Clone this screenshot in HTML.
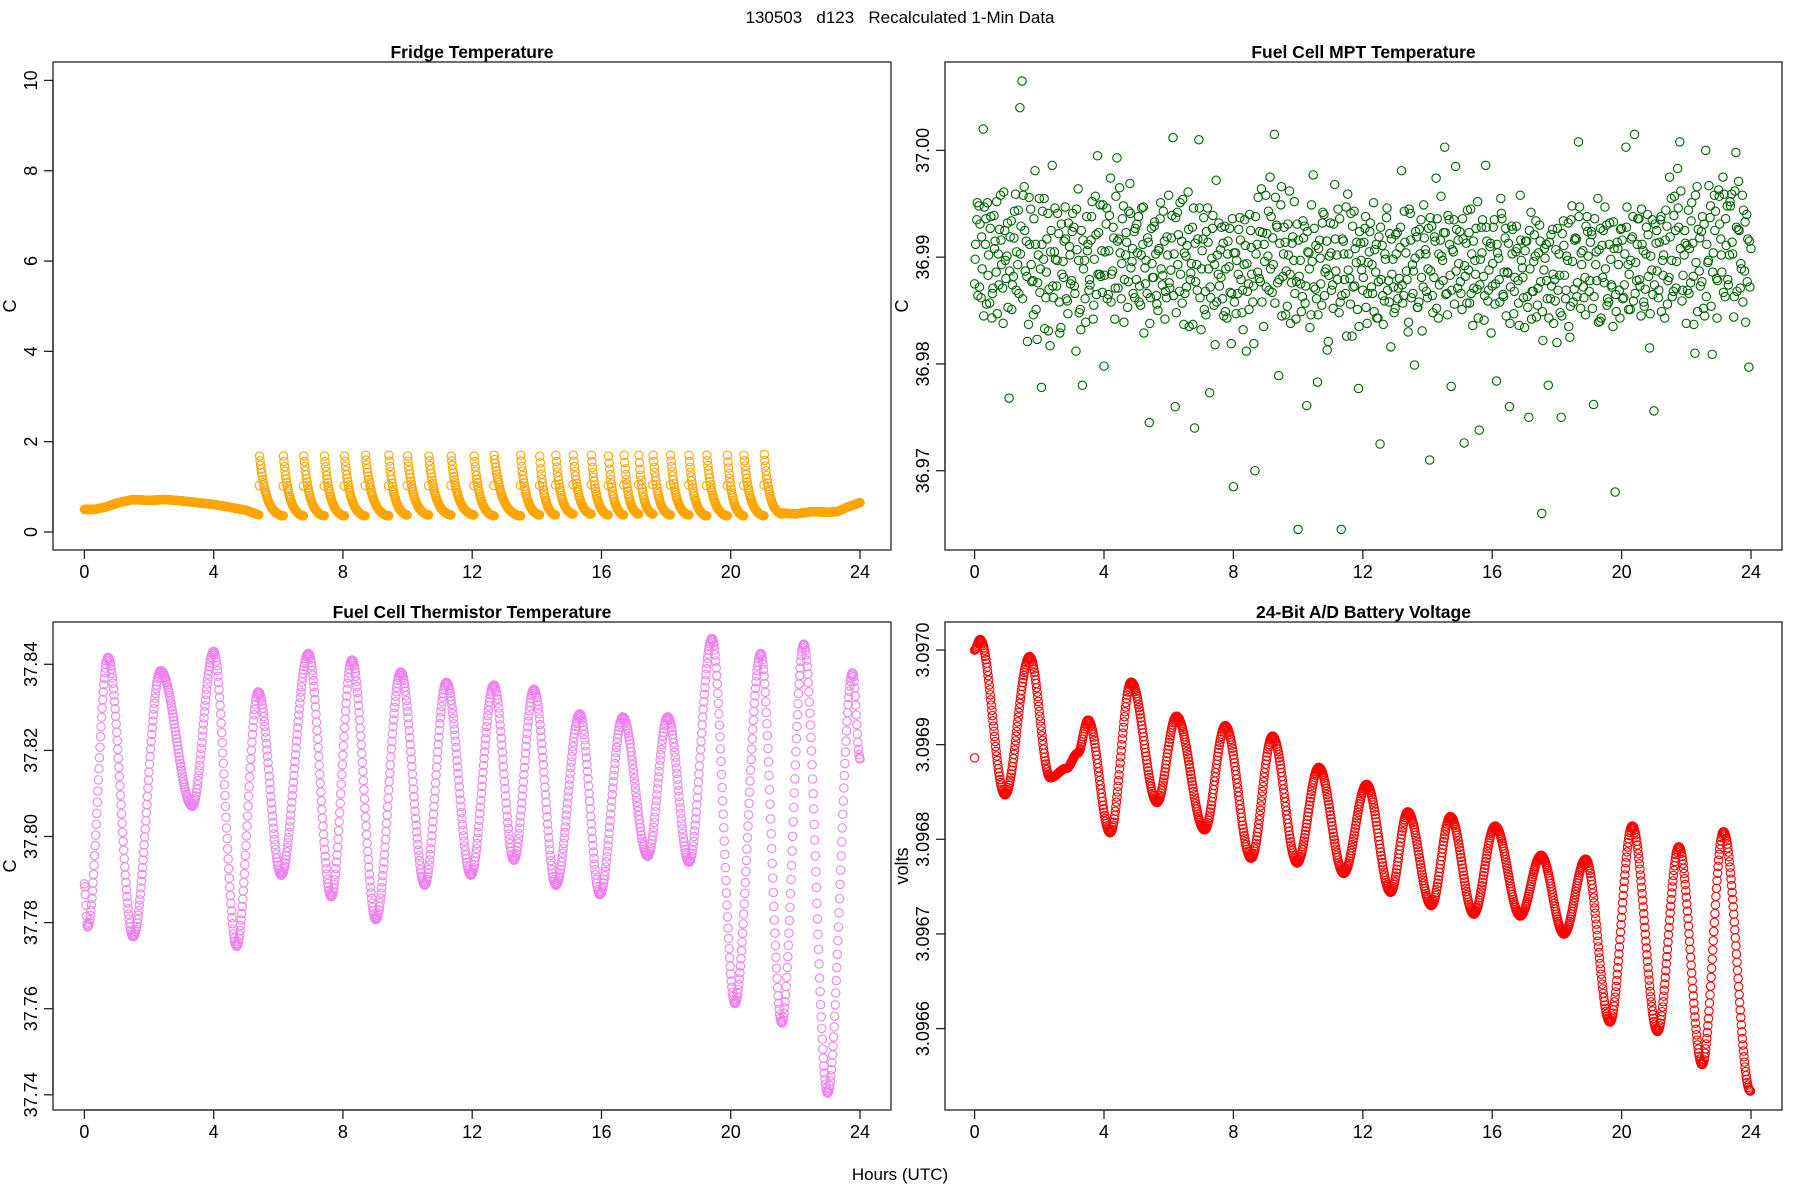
<!DOCTYPE html>
<html><head><meta charset="utf-8"><style>
html,body{margin:0;padding:0;background:#fff;}
svg{display:block;font-family:"Liberation Sans",Arial,sans-serif;}
</style></head><body>
<svg id="chart" width="1800" height="1200" viewBox="0 0 1800 1200" xmlns="http://www.w3.org/2000/svg">
<rect x="0" y="0" width="1800" height="1200" fill="#fff"/>
<text x="900" y="23" text-anchor="middle" font-size="17" fill="#000" xml:space="preserve">130503   d123   Recalculated 1-Min Data</text>
<text x="900" y="1180" text-anchor="middle" font-size="17" fill="#000">Hours (UTC)</text>
</svg>
<script>
// ---------- data ----------
const hourTicks = [0,4,8,12,16,20,24];

// Fridge temperature
const fridgePreHours = [0,0.3,0.7,1.0,1.5,2.0,2.5,3.0,3.5,4.0,4.5,5.0,5.4];
const fridgePreValues = [0.5,0.5,0.56,0.64,0.72,0.70,0.72,0.69,0.65,0.61,0.55,0.48,0.38];
const fridgeCycleStarts = [5.42,6.16,6.79,7.43,8.05,8.70,9.42,10.0,10.66,11.35,12.06,12.68,13.50,14.09,14.59,15.13,15.69,16.22,16.70,17.16,17.60,18.14,18.71,19.26,19.90,20.41,21.04];
const fridgeCyclePeaks = [1.68,1.68,1.68,1.68,1.68,1.7,1.7,1.68,1.68,1.68,1.68,1.7,1.7,1.68,1.7,1.7,1.7,1.68,1.7,1.7,1.7,1.7,1.7,1.7,1.7,1.7,1.72];
const fridgeCycleTroughs = [0.36,0.36,0.36,0.36,0.36,0.36,0.38,0.38,0.38,0.38,0.36,0.36,0.38,0.38,0.4,0.4,0.38,0.38,0.4,0.4,0.38,0.38,0.36,0.36,0.36,0.36,0.4];
const fridgeCycleEnd = 21.6;
const fridgePostHours = [21.6,22.0,22.5,23.0,23.3,23.6,24.0];
const fridgePostValues = [0.42,0.40,0.45,0.44,0.45,0.55,0.65];
const fridgeYTicks = [0,2,4,6,8,10];

// Fuel cell MPT temperature (three interleaved series, one value every 4 minutes each)
const mptStepMinutes = 4;
const mptValues = [
36.9875,36.9935,36.9948,36.9862,37.0020,36.9912,36.9951,36.9857,36.9843,36.9939,36.9886,36.9903,36.9958,36.9871,36.9925,
36.9901,36.9768,36.9934,36.9882,36.9959,36.9893,37.0040,37.0065,36.9966,36.9915,36.9837,36.9945,36.9878,36.9981,36.9823,
36.9955,36.9778,36.9898,36.9862,36.9941,36.9817,36.9986,36.9905,36.9873,36.9922,36.9834,36.9896,36.9947,36.9859,36.9910,
36.9878,36.9928,36.9812,36.9964,36.9851,36.9780,36.9897,36.9938,36.9869,36.9916,36.9842,36.9957,36.9995,36.9884,36.9906,
36.9798,36.9931,36.9865,36.9974,36.9887,36.9842,36.9993,36.9917,36.9861,36.9948,36.9902,36.9853,36.9969,36.9896,36.9924,
36.9879,36.9938,36.9855,36.9912,36.9890,36.9866,36.9745,36.9927,36.9881,36.9903,36.9850,36.9936,36.9874,36.9915,36.9862,
36.9958,36.9888,37.0012,36.9760,36.9942,36.9868,36.9915,36.9837,36.9901,36.9961,36.9879,36.9928,36.9740,36.9893,37.0010,
36.9832,36.9917,36.9868,36.9946,36.9773,36.9899,36.9855,36.9972,36.9884,36.9907,36.9861,36.9929,36.9843,36.9891,36.9819,
36.9685,36.9904,36.9866,36.9937,36.9848,36.9893,36.9812,36.9875,36.9925,36.9858,36.9700,36.9912,36.9880,36.9964,36.9835,
36.9958,36.9901,36.9975,36.9867,37.0015,36.9930,36.9789,36.9949,36.9882,36.9914,36.9854,36.9962,36.9876,36.9897,36.9842,
36.9645,36.9897,36.9863,36.9929,36.9761,36.9904,36.9846,36.9977,36.9870,36.9783,36.9916,36.9855,36.9940,36.9889,36.9821,
36.9932,36.9874,36.9968,36.9902,36.9848,36.9645,36.9915,36.9866,36.9959,36.9880,36.9826,36.9943,36.9895,36.9777,36.9913,
36.9869,36.9927,36.9838,36.9905,36.9872,36.9951,36.9886,36.9843,36.9725,36.9911,36.9859,36.9937,36.9878,36.9816,36.9898,
36.9852,36.9923,36.9880,36.9981,36.9864,36.9904,36.9830,36.9941,36.9893,36.9799,36.9919,36.9858,36.9935,36.9872,36.9907,
36.9862,36.9710,36.9929,36.9881,36.9974,36.9843,36.9916,36.9897,37.0003,36.9866,36.9935,36.9779,36.9905,36.9985,36.9871,
36.9924,36.9851,36.9726,36.9913,36.9888,36.9945,36.9836,36.9897,36.9870,36.9738,36.9928,36.9882,36.9986,36.9859,36.9910,
36.9873,36.9935,36.9784,36.9899,36.9955,36.9865,36.9918,36.9886,36.9760,36.9929,36.9847,36.9905,36.9878,36.9958,36.9890,
36.9834,36.9915,36.9750,36.9942,36.9868,36.9901,36.9855,36.9930,36.9660,36.9888,36.9912,36.9780,36.9861,36.9926,36.9879,
36.9820,36.9903,36.9750,36.9934,36.9861,36.9897,36.9825,36.9948,36.9870,36.9917,37.0008,36.9852,36.9906,36.9881,36.9938,
36.9868,36.9924,36.9762,36.9893,36.9955,36.9840,36.9911,36.9876,36.9930,36.9858,36.9898,36.9835,36.9680,36.9914,36.9869,
36.9927,36.9862,37.0003,36.9893,36.9851,36.9919,37.0015,36.9878,36.9936,36.9845,36.9906,36.9870,36.9940,36.9815,36.9888,
36.9756,36.9913,36.9862,36.9935,36.9897,36.9843,36.9929,36.9881,36.9955,36.9868,36.9925,36.9983,37.0008,36.9859,36.9902,
36.9838,36.9944,36.9876,36.9913,36.9810,36.9966,36.9887,36.9924,36.9852,37.0000,36.9895,36.9937,36.9809,36.9958,36.9880,
36.9963,36.9917,36.9975,36.9863,36.9948,36.9902,36.9959,36.9844,36.9998,36.9926,36.9871,36.9958,36.9887,36.9940,36.9797,
36.9908];
const mptValuesB = [
36.9912,36.9864,36.9931,36.9889,36.9947,36.9856,36.9902,36.9938,36.9871,36.9915,36.9847,36.9926,36.9893,36.9961,36.9880,
36.9853,36.9919,36.9874,36.9943,36.9905,36.9866,36.9929,36.9958,36.9887,36.9821,36.9912,36.9877,36.9936,36.9851,36.9902,
36.9889,36.9943,36.9833,36.9917,36.9870,36.9925,36.9862,36.9898,36.9941,36.9829,36.9884,36.9915,36.9861,36.9932,36.9875,
36.9941,36.9866,36.9907,36.9848,36.9925,36.9889,36.9839,36.9912,36.9874,36.9952,36.9898,36.9865,36.9923,36.9882,36.9949,
36.9905,36.9861,36.9939,36.9884,36.9918,36.9957,36.9871,36.9904,36.9936,36.9879,36.9914,36.9943,36.9890,36.9866,36.9927,
36.9904,36.9873,36.9946,36.9829,36.9897,36.9914,36.9862,36.9881,36.9933,36.9856,36.9908,36.9889,36.9943,36.9868,36.9902,
36.9871,36.9939,36.9903,36.9848,36.9921,36.9884,36.9954,36.9866,36.9911,36.9835,36.9894,36.9946,36.9877,36.9917,36.9862,
36.9906,36.9851,36.9924,36.9889,36.9862,36.9939,36.9818,36.9902,36.9873,36.9928,36.9845,36.9889,36.9915,36.9867,36.9936,
36.9858,36.9897,36.9926,36.9879,36.9832,36.9911,36.9868,36.9940,36.9884,36.9819,36.9903,36.9956,36.9877,36.9923,36.9896,
36.9922,36.9869,36.9938,36.9893,36.9956,36.9876,36.9913,36.9845,36.9928,36.9887,36.9902,36.9838,36.9919,36.9866,36.9931,
36.9882,36.9849,36.9918,36.9873,36.9905,36.9834,36.9896,36.9927,36.9861,36.9908,36.9875,36.9942,36.9886,36.9813,36.9901,
36.9869,36.9931,36.9887,36.9945,36.9858,36.9917,36.9879,36.9826,36.9903,36.9941,36.9872,36.9908,36.9851,36.9924,36.9888,
36.9914,36.9853,36.9895,36.9932,36.9866,36.9907,36.9843,36.9919,36.9879,36.9837,36.9898,36.9869,36.9922,36.9884,36.9848,
36.9903,36.9871,36.9928,36.9857,36.9914,36.9879,36.9945,36.9862,36.9887,36.9924,36.9853,36.9903,36.9831,36.9918,36.9868,
36.9927,36.9887,36.9848,36.9915,36.9936,36.9874,36.9901,36.9923,36.9865,36.9939,36.9883,36.9907,36.9856,36.9926,36.9894,
36.9866,36.9917,36.9882,36.9944,36.9857,36.9903,36.9871,36.9927,36.9843,36.9898,36.9935,36.9864,36.9915,36.9888,36.9829,
36.9928,36.9875,36.9904,36.9858,36.9936,36.9886,36.9845,36.9913,36.9872,36.9926,36.9881,36.9908,36.9836,36.9897,36.9862,
36.9915,36.9853,36.9889,36.9868,36.9921,36.9844,36.9904,36.9877,36.9822,36.9899,36.9861,36.9914,36.9873,36.9838,36.9907,
36.9869,36.9848,36.9922,36.9883,36.9901,36.9835,36.9935,36.9858,36.9918,36.9876,36.9947,36.9893,36.9862,36.9929,36.9901,
36.9914,36.9852,36.9936,36.9878,36.9907,36.9843,36.9925,36.9889,36.9861,36.9932,36.9872,36.9908,36.9849,36.9893,36.9926,
36.9861,36.9903,36.9947,36.9884,36.9917,36.9859,36.9895,36.9936,36.9873,36.9912,36.9854,36.9928,36.9882,36.9901,36.9865,
36.9931,36.9887,36.9914,36.9849,36.9902,36.9944,36.9878,36.9919,36.9863,36.9957,36.9896,36.9928,36.9962,36.9883,36.9913,
36.9869,36.9908,36.9951,36.9837,36.9895,36.9926,36.9873,36.9938,36.9845,36.9912,36.9967,36.9854,36.9904,36.9943,36.9878,
36.9931,36.9886,36.9959,36.9911,36.9874,36.9948,36.9903,36.9962,36.9868,36.9925,36.9889,36.9944,36.9839,36.9917,36.9872];
const mptValuesC = [
36.9898,36.9951,36.9872,36.9919,36.9845,36.9936,36.9883,36.9927,36.9866,36.9908,36.9952,36.9874,36.9916,36.9838,36.9897,
36.9932,36.9887,36.9851,36.9918,36.9869,36.9944,36.9903,36.9861,36.9925,36.9882,36.9956,36.9893,36.9846,36.9912,36.9876,
36.9867,36.9912,36.9955,36.9886,36.9831,36.9905,36.9873,36.9946,36.9897,36.9858,36.9931,36.9881,36.9917,36.9847,36.9902,
36.9924,36.9873,36.9945,36.9897,36.9832,36.9916,36.9861,36.9906,36.9879,36.9938,36.9855,36.9921,36.9884,36.9949,36.9867,
36.9883,36.9946,36.9906,36.9858,36.9928,36.9871,36.9915,36.9965,36.9894,36.9839,36.9923,36.9877,36.9941,36.9908,36.9862,
36.9931,36.9858,36.9902,36.9947,36.9875,36.9918,36.9838,36.9894,36.9929,36.9864,36.9906,36.9951,36.9883,36.9842,36.9919,
36.9876,36.9918,36.9864,36.9937,36.9893,36.9951,36.9857,36.9904,36.9872,36.9926,36.9885,36.9837,36.9913,36.9869,36.9946,
36.9889,36.9937,36.9846,36.9914,36.9872,36.9927,36.9893,36.9858,36.9932,36.9881,36.9913,36.9849,36.9903,36.9927,36.9866,
36.9904,36.9847,36.9884,36.9916,36.9869,36.9935,36.9894,36.9851,36.9909,36.9873,36.9938,36.9886,36.9924,36.9858,36.9912,
36.9872,36.9943,36.9889,36.9918,36.9857,36.9928,36.9879,36.9966,36.9903,36.9846,36.9931,36.9884,36.9913,36.9952,36.9877,
36.9916,36.9875,36.9934,36.9857,36.9924,36.9889,36.9949,36.9872,36.9911,36.9846,36.9899,36.9932,36.9864,36.9915,36.9883,
36.9904,36.9852,36.9917,36.9879,36.9936,36.9864,36.9903,36.9947,36.9888,36.9856,36.9929,36.9873,36.9914,36.9835,36.9897,
36.9881,36.9938,36.9866,36.9924,36.9893,36.9849,36.9912,36.9877,36.9928,36.9864,36.9903,36.9946,36.9858,36.9917,36.9872,
36.9921,36.9861,36.9909,36.9874,36.9943,36.9887,36.9839,36.9916,36.9866,36.9899,36.9853,36.9926,36.9881,36.9949,36.9903,
36.9889,36.9937,36.9864,36.9919,36.9852,36.9903,36.9957,36.9878,36.9923,36.9846,36.9912,36.9869,36.9935,36.9887,36.9916,
36.9877,36.9936,36.9892,36.9857,36.9923,36.9866,36.9915,36.9884,36.9952,36.9874,36.9904,36.9841,36.9928,36.9869,36.9913,
36.9894,36.9856,36.9912,36.9879,36.9941,36.9863,36.9927,36.9885,36.9838,36.9903,36.9868,36.9929,36.9857,36.9916,36.9881,
36.9906,36.9863,36.9925,36.9842,36.9896,36.9934,36.9871,36.9915,36.9849,36.9908,36.9878,36.9843,36.9921,36.9884,36.9859,
36.9927,36.9883,36.9845,36.9911,36.9869,36.9932,36.9854,36.9896,36.9916,36.9863,36.9938,36.9904,36.9872,36.9846,36.9924,
36.9878,36.9921,36.9863,36.9905,36.9839,36.9927,36.9881,36.9947,36.9855,36.9912,36.9874,36.9933,36.9865,36.9908,36.9843,
36.9916,36.9874,36.9928,36.9851,36.9897,36.9938,36.9866,36.9912,36.9879,36.9945,36.9858,36.9903,36.9921,36.9847,36.9935,
36.9874,36.9925,36.9869,36.9938,36.9883,36.9916,36.9856,36.9975,36.9897,36.9939,36.9871,36.9946,36.9908,36.9869,36.9925,
36.9911,36.9866,36.9934,36.9882,36.9958,36.9849,36.9918,36.9877,36.9931,36.9863,36.9897,36.9948,36.9886,36.9925,36.9843,
36.9957,36.9902,36.9867,36.9936,36.9879,36.9952,36.9914,36.9863,36.9928,36.9971,36.9894,36.9858,36.9933,36.9877,36.9915];
const mptYTicks = [36.97,36.98,36.99,37.00];
const mptYTickLabels = ["36.97","36.98","36.99","37.00"];

// Fuel cell thermistor temperature: turning points (hours, value)
const thermHours = [0,0.1,0.73,1.51,2.36,3.34,4.0,4.71,5.38,6.09,6.93,7.64,8.28,9.02,9.79,10.53,11.2,11.96,12.67,13.29,13.91,14.59,15.33,15.95,16.66,17.43,18.05,18.71,19.42,20.13,20.93,21.58,22.26,23.0,23.77,24.0];
const thermValues = [37.789,37.779,37.8416,37.7767,37.8385,37.807,37.843,37.7745,37.8336,37.791,37.8425,37.786,37.841,37.7807,37.8382,37.7887,37.8358,37.791,37.8352,37.7945,37.8342,37.7887,37.8285,37.7865,37.8278,37.7954,37.8278,37.794,37.846,37.7612,37.8425,37.7567,37.8447,37.7404,37.838,37.818];
const thermYTicks = [37.74,37.76,37.78,37.80,37.82,37.84];
const thermYTickLabels = ["37.74","37.76","37.78","37.80","37.82","37.84"];

// Battery voltage: turning points (hours, volts)
const battHours = [0,0.17,0.94,1.70,2.34,2.84,3.19,3.51,4.19,4.84,5.64,6.24,7.11,7.75,8.55,9.21,9.97,10.64,11.41,12.12,12.86,13.39,14.12,14.71,15.43,16.09,16.87,17.51,18.22,18.89,19.64,20.33,21.11,21.77,22.49,23.15,23.98];
const battValues = [3.09700,3.097011,3.096847,3.096993,3.096865,3.096875,3.096891,3.096926,3.096807,3.096966,3.096839,3.096930,3.096810,3.096920,3.096780,3.096909,3.096775,3.096876,3.096764,3.096858,3.096744,3.096829,3.096730,3.096824,3.096721,3.096814,3.096719,3.096783,3.096700,3.096779,3.096607,3.096814,3.096597,3.096792,3.096562,3.096808,3.096534];
const battOutlierHours = [0.0];
const battOutlierValues = [3.096886];
const battYTicks = [3.0966,3.0967,3.0968,3.0969,3.0970];
const battYTickLabels = ["3.0966","3.0967","3.0968","3.0969","3.0970"];

// ---------- drawing ----------
const svg = document.getElementById('chart');
const NS = 'http://www.w3.org/2000/svg';
function mk(tag, attrs, parent){
  const e = document.createElementNS(NS, tag);
  for (const k in attrs) e.setAttribute(k, attrs[k]);
  (parent||svg).appendChild(e);
  return e;
}
function linScale(d0,d1,r0,r1){ return v => r0 + (v-d0)*(r1-r0)/(d1-d0); }

function makePanel(cfg){
  const g = mk('g', {});
  
  
  const xs = linScale(0,24,cfg.hx0,cfg.hx1);
  const ys = linScale(cfg.yv0,cfg.yv1,cfg.yp0,cfg.yp1);
  const box = mk('rect', {x:cfg.x0,y:cfg.y0,width:cfg.x1-cfg.x0,height:cfg.y1-cfg.y0,fill:'none',stroke:'#222','stroke-width':1.3}, g);
  
  
  const t = mk('text', {x:(cfg.x0+cfg.x1)/2,y:cfg.y0-4,'text-anchor':'middle','font-size':17.5,'font-weight':'bold',fill:'#000'}, g);
  t.textContent = cfg.title;
  
  
  const xa = mk('line', {x1:xs(hourTicks[0]),x2:xs(hourTicks[hourTicks.length-1]),y1:cfg.y1,y2:cfg.y1,stroke:'#222','stroke-width':1.3}, g);
  
  
  hourTicks.forEach(h => {
    const tk = mk('line', {x1:xs(h),x2:xs(h),y1:cfg.y1,y2:cfg.y1+9,stroke:'#222','stroke-width':1.3}, g);
    
    
    const lb = mk('text', {x:xs(h),y:cfg.y1+28,'text-anchor':'middle','font-size':18,fill:'#000'}, g);
    lb.textContent = String(h);
    
    
  });
  const ya = mk('line', {x1:cfg.x0,x2:cfg.x0,y1:ys(cfg.yTicks[0]),y2:ys(cfg.yTicks[cfg.yTicks.length-1]),stroke:'#222','stroke-width':1.3}, g);
  
  
  cfg.yTicks.forEach((v,i) => {
    const y = ys(v);
    const tk = mk('line', {x1:cfg.x0-9,x2:cfg.x0,y1:y,y2:y,stroke:'#222','stroke-width':1.3}, g);
    
    
    const lb = mk('text', {x:0,y:0,'text-anchor':'middle','font-size':18,fill:'#000',transform:`translate(${cfg.x0-16},${y}) rotate(-90)`}, g);
    lb.textContent = cfg.yLabels[i];
    
    
  });
  const yl = mk('text', {x:0,y:0,'text-anchor':'middle','font-size':18,fill:'#000',transform:`translate(${cfg.x0-37},${(cfg.y0+cfg.y1)/2}) rotate(-90)`}, g);
  yl.textContent = cfg.ylab;
  
  
  const pg = mk('g', {fill:'none',stroke:cfg.color,'stroke-width':1.1}, g);
  
  
  return {xs, ys, pg};
}
function dot(p, h, v){
  const c = mk('circle', {cx:p.xs(h).toFixed(2), cy:p.ys(v).toFixed(2), r:4.2}, p.pg);
  
  
}
function cosBetween(hArr, vArr, t){
  let i = 0;
  while (i < hArr.length-2 && t > hArr[i+1]) i++;
  const s = Math.max(0, Math.min(1, (t-hArr[i])/(hArr[i+1]-hArr[i])));
  return vArr[i] + (vArr[i+1]-vArr[i])*(1-Math.cos(Math.PI*s))/2;
}
function linBetween(hArr, vArr, t){
  let i = 0;
  while (i < hArr.length-2 && t > hArr[i+1]) i++;
  const s = Math.max(0, Math.min(1, (t-hArr[i])/(hArr[i+1]-hArr[i])));
  return vArr[i] + (vArr[i+1]-vArr[i])*s;
}

// Panel 1: Fridge
const fridgeP = makePanel({name:'fridge-temperature-panel',title:'Fridge Temperature',ylab:'C',color:'#FFA500',
  x0:53,x1:891,y0:62,y1:550,hx0:84.4,hx1:860,yv0:0,yv1:10,yp0:532,yp1:80.4,
  yTicks:fridgeYTicks,yLabels:fridgeYTicks.map(String)});
for (let m = 0; m <= fridgePreHours[fridgePreHours.length-1]*60; m++){
  dot(fridgeP, m/60, linBetween(fridgePreHours, fridgePreValues, m/60));
}
fridgeCycleStarts.forEach((s,i) => {
  const e = i+1 < fridgeCycleStarts.length ? fridgeCycleStarts[i+1] : fridgeCycleEnd;
  const pk = fridgeCyclePeaks[i], tr = fridgeCycleTroughs[i];
  const prevTr = i > 0 ? fridgeCycleTroughs[i-1] : fridgePreValues[fridgePreValues.length-1];
  dot(fridgeP, s-0.5/60, (prevTr+pk)/2);
  const span = (e - s) * 0.92;
  const k = 3.2, ek = Math.exp(-k);
  for (let t = s; t < e; t += 1/60){
    const u = Math.min(1, (t-s)/span);
    const f = (Math.exp(-k*u)-ek)/(1-ek);
    dot(fridgeP, t, tr + (pk-tr)*f);
  }
});
for (let m = Math.round(fridgePostHours[0]*60); m <= 1440; m++){
  dot(fridgeP, m/60, linBetween(fridgePostHours, fridgePostValues, m/60));
}

// Panel 2: MPT
const mptP = makePanel({name:'mpt-temperature-panel',title:'Fuel Cell MPT Temperature',ylab:'C',color:'#006400',
  x0:945,x1:1782,y0:62,y1:550,hx0:974.6,hx1:1751,yv0:37.00,yv1:36.97,yp0:150.4,yp1:470.7,
  yTicks:mptYTicks,yLabels:mptYTickLabels});
mptValues.forEach((v,i) => dot(mptP, i*mptStepMinutes/60, v));
mptValuesB.forEach((v,i) => dot(mptP, (i*mptStepMinutes+2)/60, v));
mptValuesC.forEach((v,i) => dot(mptP, (i*mptStepMinutes+1)/60, v));

// Panel 3: Thermistor
const thermP = makePanel({name:'thermistor-temperature-panel',title:'Fuel Cell Thermistor Temperature',ylab:'C',color:'#EE82EE',
  x0:53,x1:891,y0:622,y1:1110,hx0:84.4,hx1:860,yv0:37.84,yv1:37.74,yp0:664.3,yp1:1094.8,
  yTicks:thermYTicks,yLabels:thermYTickLabels});
for (let m = 0; m <= 1440; m++){
  dot(thermP, m/60, cosBetween(thermHours, thermValues, m/60));
}

// Panel 4: Battery
const battP = makePanel({name:'battery-voltage-panel',title:'24-Bit A/D Battery Voltage',ylab:'volts',color:'#FF0000',
  x0:945,x1:1782,y0:622,y1:1110,hx0:974.6,hx1:1751,yv0:3.0970,yv1:3.0966,yp0:650,yp1:1028.6,
  yTicks:battYTicks,yLabels:battYTickLabels});
battOutlierHours.forEach((h,i) => dot(battP, h, battOutlierValues[i]));
for (let m = 0; m <= Math.round(battHours[battHours.length-1]*60); m++){
  dot(battP, m/60, cosBetween(battHours, battValues, m/60));
}
</script>
</body></html>
